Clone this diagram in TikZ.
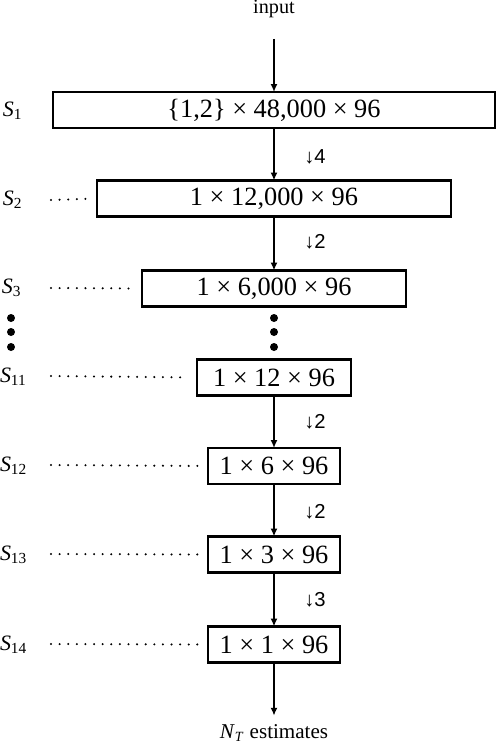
\documentclass[tikz,border=0pt]{standalone}
\usepackage{fontspec}
\setmainfont{Liberation Serif}
\newfontfamily\ratiofont{Liberation Sans}
\usetikzlibrary{arrows.meta}

\begin{document}
\begin{tikzpicture}[x=0.02cm,y=-0.02cm,inner sep=0pt,outer sep=0pt,very thick,
>={Latex[length=4.5pt,width=4pt]},
stageblock/.style={draw,rectangle,minimum height=0.72cm,very thick,font=\fontsize{15}{18}\selectfont},
stagelabel/.style={anchor=west,font=\fontsize{12.5}{15}\selectfont},
ratiolabel/.style={font=\ratiofont\fontsize{11.5}{14}\selectfont},
dotline/.style={line width=1.3pt,line cap=round,dash pattern=on 0pt off 4.9pt,shorten >=6pt},
bigdot/.style={fill,circle,minimum size=0.16cm}]

\useasboundingbox (0,0) rectangle (496,748);

\draw (274,9) node[font=\fontsize{11.5}{14}\selectfont] (in) {input};
\draw (274,110) node[stageblock,minimum width=8.84cm] (s1) {\{1,2\} × 48,000 × 96};
\draw (274,198.5) node[stageblock,minimum width=7.08cm] (s2) {1 × 12,000 × 96};
\draw (274,288.5) node[stageblock,minimum width=5.28cm] (s3) {1 × 6,000 × 96};
\draw (274,377.5) node[stageblock,minimum width=3.08cm] (s11) {1 × 12 × 96};
\draw (274,466) node[stageblock,minimum width=2.64cm] (s12) {1 × 6 × 96};
\draw (274,554.5) node[stageblock,minimum width=2.64cm] (s13) {1 × 3 × 96};
\draw (274,644.5) node[stageblock,minimum width=2.64cm] (s14) {1 × 1 × 96};
\draw (274,733) node[font=\fontsize{12}{14}\selectfont] (out) {\textit{N}\textsubscript{\textit{T}} estimates};

% stage names
\draw (3,111) node[stagelabel] (l1) {\textit{S}\textsubscript{1}};
\draw (3,200) node[stagelabel] (l2) {\textit{S}\textsubscript{2}};
\draw (2,288) node[stagelabel] (l3) {\textit{S}\textsubscript{3}};
\draw (0,377) node[stagelabel] (l11) {\textit{S}\textsubscript{11}};
\draw (0,466) node[stagelabel] (l12) {\textit{S}\textsubscript{12}};
\draw (0,555) node[stagelabel] (l13) {\textit{S}\textsubscript{13}};
\draw (0,645) node[stagelabel] (l14) {\textit{S}\textsubscript{14}};

% downsampling factors
\draw (315,157) node[ratiolabel] (r1) {↓4};
\draw (315,242) node[ratiolabel] (r2) {↓2};
\draw (315,422) node[ratiolabel] (r3) {↓2};
\draw (315,512) node[ratiolabel] (r4) {↓2};
\draw (315,600) node[ratiolabel] (r5) {↓3};

% skipped stages
\draw (11,318) node[bigdot] (vl1) {};
\draw (11,332) node[bigdot] (vl2) {};
\draw (11,347) node[bigdot] (vl3) {};
\draw (274,318) node[bigdot] (vc1) {};
\draw (274,332) node[bigdot] (vc2) {};
\draw (274,347) node[bigdot] (vc3) {};

\draw[->,shorten <=12pt] (in.south) -- (s1.north);
\draw[->] (s1.south) -- (s2.north);
\draw[->] (s2.south) -- (s3.north);
\draw[->] (s11.south) -- (s12.north);
\draw[->] (s12.south) -- (s13.north);
\draw[->] (s13.south) -- (s14.north);
\draw[->,shorten >=5pt] (s14.south) -- (out.north);

\coordinate (d2) at (51,200);
\coordinate (d3) at (51,288);
\coordinate (d11) at (51,376);
\coordinate (d12) at (51,465);
\coordinate (d13) at (51,554);
\coordinate (d14) at (51,644);
\draw[dotline] (d2) -- (s2.west);
\draw[dotline,shorten >=4pt] (d3) -- (s3.west);
\draw[dotline,shorten >=9pt] (d11) -- (s11.west);
\draw[dotline] (d12) -- (s12.west);
\draw[dotline] (d13) -- (s13.west);
\draw[dotline] (d14) -- (s14.west);
\end{tikzpicture}
\end{document}
